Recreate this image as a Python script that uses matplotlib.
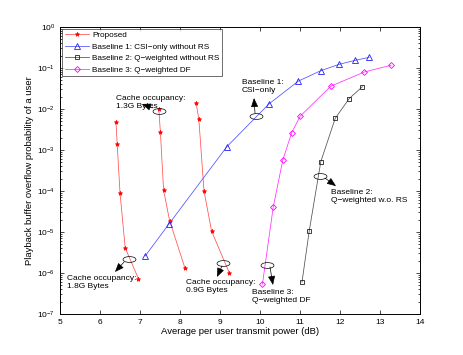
import numpy as np
import matplotlib
matplotlib.use("Agg")
import matplotlib.pyplot as plt
from matplotlib.path import Path
from matplotlib.patches import FancyArrowPatch
from matplotlib.transforms import Affine2D
from matplotlib.ticker import LogLocator, NullFormatter, FixedLocator

plt.rcParams['font.family'] = ['Liberation Sans', 'DejaVu Sans']
plt.rcParams['mathtext.fontset'] = 'custom'
plt.rcParams['mathtext.rm'] = 'Liberation Sans'

# ---------------- data ----------------
prop_18_x = [6.40, 6.43, 6.50, 6.63, 6.96]
prop_18_y = [4.8e-3, 1.38e-3, 9.1e-5, 4.1e-6, 7.3e-7]
prop_13_x = [7.47, 7.51, 7.59, 7.74, 8.12]
prop_13_y = [1.0e-2, 2.7e-3, 1.04e-4, 1.9e-5, 1.35e-6]
prop_09_x = [8.40, 8.47, 8.60, 8.79, 9.23]
prop_09_y = [1.42e-2, 5.8e-3, 1.0e-4, 1.05e-5, 1.02e-6]

base1_x = [7.13, 7.73, 9.17, 10.22, 10.96, 11.52, 11.98, 12.38, 12.73]
base1_y = [2.6e-6, 1.6e-5, 1.2e-3, 1.32e-2, 4.8e-2, 8.6e-2, 0.123, 0.154, 0.182]

base2_x = [11.05, 11.23, 11.52, 11.88, 12.23, 12.56]
base2_y = [6.0e-7, 1.05e-5, 5.2e-4, 5.9e-3, 1.8e-2, 3.5e-2]

base3_x = [10.06, 10.33, 10.57, 10.79, 11.00, 11.77, 12.61, 13.28]
base3_y = [5.3e-7, 4.0e-5, 5.7e-4, 2.6e-3, 6.6e-3, 3.6e-2, 8.0e-2, 0.117]

labels = ["Proposed", "Baseline 1: CSI\u2212only without RS",
          "Baseline 2: Q\u2212weighted without RS", "Baseline 3: Q\u2212weighted DF"]
x_ticks = [5, 6, 7, 8, 9, 10, 11, 12, 13, 14]
x_label = "Average per user transmit power (dB)"
y_label = "Playback buffer overflow probability of a user"

# annotations: (text, text pos, ellipse center, arrow tail, arrow tip)
annots = [
    ("Cache occupancy:\n1.3G Bytes", (6.40, 1.44e-2), (7.475, 8.9e-3), (7.33, 1.06e-2), (7.05, 1.32e-2)),
    ("Baseline 1:\nCSI\u2212only", (9.55, 3.54e-2), (9.90, 6.75e-3), (9.875, 7.98e-3), (9.85, 1.85e-2)),
    ("Baseline 2:\nQ\u2212weighted w.o. RS", (11.775, 7.34e-5), (11.50, 2.32e-4), (11.625, 2.07e-4), (11.90, 1.32e-4)),
    ("Baseline 3:\nQ\u2212weighted DF", (9.80, 2.67e-7), (10.17, 1.59e-6), (10.25, 1.40e-6), (10.325, 5.1e-7)),
    ("Cache occupancy:\n1.8G Bytes", (5.175, 5.87e-7), (6.72, 2.16e-6), (6.60, 1.85e-6), (6.375, 1.06e-6)),
    ("Cache occupancy:\n0.9G Bytes", (8.15, 4.69e-7), (9.08, 1.78e-6), (9.05, 1.48e-6), (8.925, 8.0e-7)),
]

# ---------------- figure ----------------
fig = plt.figure(figsize=(4.63, 3.55), dpi=100)
ax = fig.add_axes([60/463, 1-314/355, 360/463, 287/355])

red = '#ff0000'
lw = 0.55
for i, (xx, yy) in enumerate([(prop_18_x, prop_18_y), (prop_13_x, prop_13_y), (prop_09_x, prop_09_y)]):
    ax.plot(xx, yy, color='#ff5050', lw=lw, marker='*', ms=3.2, mfc=red, mec=red, mew=0.5,
            label=labels[0] if i == 0 else None)
ax.plot(base1_x, base1_y, color='#5050ff', lw=lw, marker='^', ms=4.5, mfc='none', mec='#2020ff', mew=0.6, label=labels[1])
ax.plot(base2_x, base2_y, color='#505050', lw=lw, marker='s', ms=3.3, mfc='none', mec='#202020', mew=0.6, label=labels[2])
ax.plot(base3_x, base3_y, color='#ff30ff', lw=lw, marker='D', ms=3.0, mfc='none', mec='#ff00ff', mew=0.6, label=labels[3])

# ellipse marker
ell = Path.unit_circle().transformed(Affine2D().scale(1.0, 0.45))
for txt, tpos, epos, tail, tip in annots:
    ax.plot([epos[0]], [epos[1]], linestyle='none', marker=ell, ms=9.3, mfc='none', mec='k', mew=0.5)
    ax.add_patch(FancyArrowPatch(tail, tip, arrowstyle='-|>,head_length=0.55,head_width=0.22',
                                 mutation_scale=10, color='k', lw=0.5, shrinkA=0, shrinkB=0))
    ax.text(tpos[0], tpos[1], txt, fontsize=6, ha='left', va='center', linespacing=1.05)

ax.set_yscale('log')
ax.set_xlim(5, 14)
ax.set_ylim(1e-7, 1)
ax.xaxis.set_major_locator(FixedLocator(x_ticks))
ax.yaxis.set_major_locator(LogLocator(base=10, numticks=20))
ax.yaxis.set_minor_locator(LogLocator(base=10, subs=np.arange(2, 10), numticks=20))
ax.yaxis.set_minor_formatter(NullFormatter())
ax.tick_params(which='both', direction='in', top=True, right=True, labelsize=6, width=0.5)
ax.tick_params(which='major', length=3)
ax.tick_params(which='minor', length=1.5)
for s in ax.spines.values():
    s.set_linewidth(0.7)
ax.set_xlabel(x_label, fontsize=6.8, labelpad=1)
ax.set_ylabel(y_label, fontsize=6.8, labelpad=2)

leg = ax.legend(loc='upper left', fontsize=5.9, frameon=True, fancybox=False, borderaxespad=0.25,
                handlelength=3.0, handletextpad=0.35, labelspacing=0.45, borderpad=0.3)
leg.get_frame().set_edgecolor('k')
leg.get_frame().set_linewidth(0.5)

fig.savefig('out.png', dpi=100)
